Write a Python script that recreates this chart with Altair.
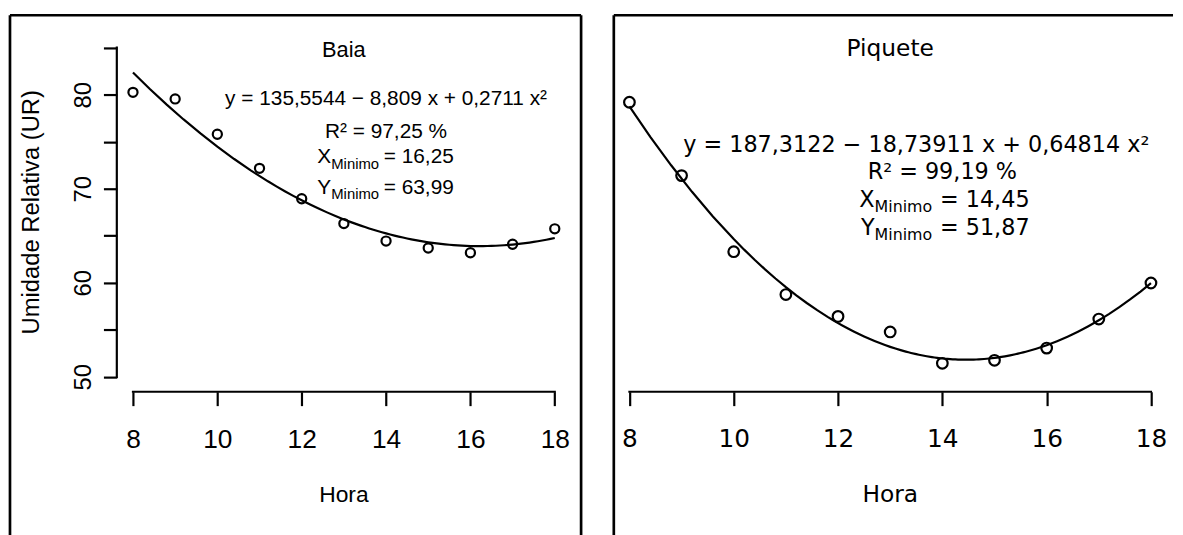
import altair as alt
import pandas as pd

# ---------------- data ----------------
hora = [8, 9, 10, 11, 12, 13, 14, 15, 16, 17, 18]
ur_baia = [80.25, 79.55, 75.80, 72.17, 68.94, 66.30, 64.44, 63.70, 63.20, 64.10, 65.74]
ur_piquete = [79.20, 71.40, 63.31, 58.75, 56.43, 54.78, 51.44, 51.76, 53.06, 56.15, 59.98]

x_ticks = [8, 10, 12, 14, 16, 18]
y_ticks = [50, 55, 60, 65, 70, 75, 80, 85]

panel_titles = ["Baia", "Piquete"]
equations = ["y = 135,5544 − 8,809 x + 0,2711 x²",
             "y = 187,3122 − 18,73911 x + 0,64814 x²"]
r2_texts = ["R² = 97,25 %", "R² = 99,19 %"]
x_min_values = ["= 16,25", "= 14,45"]
y_min_values = ["= 63,99", "= 51,87"]
x_title = "Hora"
y_title = "Umidade Relativa (UR)"

# annotation anchors in data units (as in R's text(x, y, ...))
eq_anchor_x = [14.0, 13.5]
eq_anchor_y = [79.55, 74.64]
r2_anchor_x = [14.0, 14.0]
r2_anchor_y = [76.04, 71.75]
sub_anchor_x = [12.7, 12.7]
xmin_anchor_y = [73.40, 68.84]
ymin_anchor_y = [70.13, 65.84]
ytitle_anchor_y = 67.5

# ---------------- layout / style ----------------
H = 527
W = [576, 564]
x_domains = [[5.084, 18.624], [7.7006, 18.423]]
Y_TOP = 88.452
PX_PER_UNIT = 9.486
y_domain = [Y_TOP - H / PX_PER_UNIT, Y_TOP]
X_AXIS_PX = 379.75
Y_AXIS_PX = 107.75
fonts = ["Liberation Sans", "DejaVu Sans"]
title_fs = [22, 23.5]
eq_fs = [21, 22.5]
sub_fs = [15, 16]
eq_dx = [53, 66]
xlab_fs = [26.5, 25]
xtitle_fs = [23, 23.5]
title_px = [34.75, 33.75]
xtitle_px = 483.75
point_size = [85, 115]
BORDER = 2.7
LW = 2.2


def panel(i, series, show_y_axis, right_border):
    font = fonts[i]
    w = W[i]
    xs = alt.Scale(domain=x_domains[i], nice=False, zero=False)
    ys = alt.Scale(domain=y_domain, nice=False, zero=False)
    xaxis = alt.Axis(values=x_ticks, orient="bottom", offset=X_AXIS_PX - H,
                     domain=False, grid=False, tickSize=14, tickWidth=LW,
                     tickColor="black", labelFont=font, labelFontSize=xlab_fs[i],
                     labelColor="black", labelPadding=21, labelFlush=False,
                     labelOverlap=False, title=None)
    if show_y_axis:
        yaxis = alt.Axis(values=y_ticks, orient="left", offset=-Y_AXIS_PX,
                         domain=False, grid=False, tickSize=13.5, tickWidth=LW,
                         tickColor="black", labelFont=font, labelFontSize=24,
                         labelColor="black", labelAngle=270, labelAlign="center",
                         labelBaseline="bottom", labelPadding=8, labelFlush=False,
                         labelOverlap=False,
                         labelExpr="datum.value % 10 == 0 ? datum.label : ''",
                         title=None)
    else:
        yaxis = None

    def X(f):
        return alt.X(f, type="quantitative", scale=xs, axis=xaxis)

    def Y(f):
        return alt.Y(f, type="quantitative", scale=ys, axis=yaxis)

    df = pd.DataFrame({"hora": hora, "ur": series})
    layers = []

    # fitted quadratic (computed by Vega-Lite from the points)
    layers.append(
        alt.Chart(df).transform_regression(
            "hora", "ur", method="poly", order=2, extent=[min(hora), max(hora)]
        ).mark_line(color="black", strokeWidth=LW).encode(x=X("hora"), y=Y("ur"))
    )
    # observed points
    layers.append(
        alt.Chart(df).mark_point(shape="circle", filled=False, size=point_size[i],
                                 strokeWidth=LW, color="black", opacity=1)
        .encode(x=X("hora"), y=Y("ur"))
    )
    # x axis line (from first to last tick)
    ax_df = pd.DataFrame({"hora": [min(x_ticks)], "hora2": [max(x_ticks)]})
    layers.append(
        alt.Chart(ax_df).mark_rule(color="black", strokeWidth=LW, strokeCap="square")
        .encode(x=X("hora"), x2=alt.X2("hora2"), y=alt.value(X_AXIS_PX))
    )
    if show_y_axis:
        ay_df = pd.DataFrame({"ur": [min(y_ticks)], "ur2": [max(y_ticks)]})
        layers.append(
            alt.Chart(ay_df).mark_rule(color="black", strokeWidth=LW, strokeCap="square")
            .encode(y=Y("ur"), y2=alt.Y2("ur2"), x=alt.value(Y_AXIS_PX))
        )
        yt_df = pd.DataFrame({"ur": [ytitle_anchor_y], "t": [y_title]})
        layers.append(
            alt.Chart(yt_df).mark_text(font=font, fontSize=24, angle=270,
                                       align="center", baseline="middle", color="black")
            .encode(y=Y("ur"), x=alt.value(22.5), text="t:N")
        )

    mid = (min(x_ticks) + max(x_ticks)) / 2
    # panel title and x title
    layers.append(
        alt.Chart(pd.DataFrame({"hora": [mid], "t": [panel_titles[i]]}))
        .mark_text(font=font, fontSize=title_fs[i], align="center",
                   baseline="middle", color="black")
        .encode(x=X("hora"), y=alt.value(title_px[i]), text="t:N")
    )
    layers.append(
        alt.Chart(pd.DataFrame({"hora": [mid], "t": [x_title]}))
        .mark_text(font=font, fontSize=xtitle_fs[i], align="center",
                   baseline="middle", color="black")
        .encode(x=X("hora"), y=alt.value(xtitle_px), text="t:N")
    )

    def text_layer(xv, yv, txt, fs, align, dx=0, dy=0):
        d = pd.DataFrame({"hora": [xv], "ur": [yv], "t": [txt]})
        return (alt.Chart(d)
                .mark_text(font=font, fontSize=fs, align=align, baseline="middle",
                           dx=dx, dy=dy, color="black")
                .encode(x=X("hora"), y=Y("ur"), text="t:N"))

    layers.append(text_layer(eq_anchor_x[i], eq_anchor_y[i], equations[i], eq_fs[i], "center"))
    layers.append(text_layer(r2_anchor_x[i], r2_anchor_y[i], r2_texts[i], eq_fs[i], "center"))
    for letter, yv, val in (("X", xmin_anchor_y[i], x_min_values[i]),
                            ("Y", ymin_anchor_y[i], y_min_values[i])):
        layers.append(text_layer(sub_anchor_x[i], yv, letter, eq_fs[i], "right"))
        layers.append(text_layer(sub_anchor_x[i], yv, "Minimo", sub_fs[i], "left", dy=7))
        layers.append(text_layer(sub_anchor_x[i], yv, val, eq_fs[i], "left", dx=eq_dx[i]))

    # figure box (top, left and, for the first panel, right edges)
    dummy = pd.DataFrame({"a": [0]})
    layers.append(alt.Chart(dummy).mark_rule(color="black", strokeWidth=BORDER)
                  .encode(x=alt.value(0), x2=alt.value(w), y=alt.value(0)))
    layers.append(alt.Chart(dummy).mark_rule(color="black", strokeWidth=BORDER)
                  .encode(x=alt.value(0), y=alt.value(0), y2=alt.value(H)))
    if right_border:
        layers.append(alt.Chart(dummy).mark_rule(color="black", strokeWidth=BORDER)
                      .encode(x=alt.value(w), y=alt.value(0), y2=alt.value(H)))

    return alt.layer(*layers).properties(width=w, height=H)


left = panel(0, ur_baia, True, True)
right = panel(1, ur_piquete, False, False)

chart = (alt.hconcat(left, right, spacing=33, bounds="flush")
         .properties(padding={"left": 0, "top": 3, "right": 0, "bottom": 0},
                     background="white")
         .configure_view(stroke=None))

chart.save("out.html", embed_options={"renderer": "svg", "actions": False})
